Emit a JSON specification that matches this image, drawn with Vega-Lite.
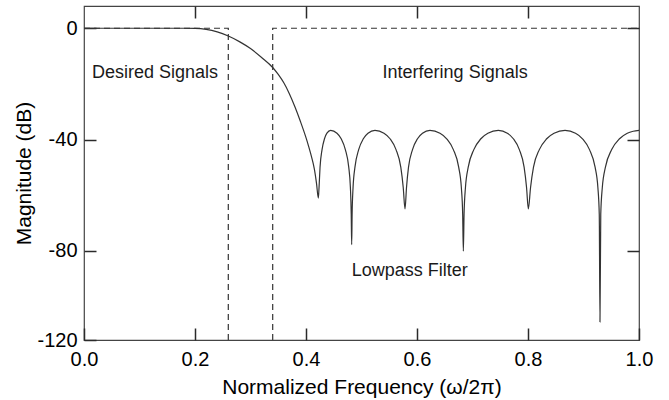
{
  "$schema": "https://vega.github.io/schema/vega-lite/v6.json",
  "width": 555,
  "height": 334,
  "autosize": "none",
  "padding": {"left": 84, "top": 6, "right": 30, "bottom": 60},
  "background": "white",
  "config": {
    "font": "Liberation Sans",
    "view": {"stroke": "#444444", "strokeWidth": 1.2},
    "axis": {"grid": false, "domain": false, "ticks": true, "zindex": 1, "labelFlush": false, "labelOverlap": false, "tickColor": "#2a2a2a", "tickWidth": 1.5, "tickSize": 12, "offset": -12, "labelFont": "Liberation Sans", "titleFont": "Liberation Sans", "labelColor": "#000000", "titleColor": "#000000", "titleFontWeight": "normal"}
  },
  "datasets": {
    "curve": [
      {"f": 0, "v": 0}, {"f": 0.05, "v": 0}, {"f": 0.1, "v": 0}, {"f": 0.15, "v": 0}, {"f": 0.18, "v": 0},
      {"f": 0.2, "v": -0.05}, {"f": 0.22, "v": -0.4}, {"f": 0.24, "v": -1.3}, {"f": 0.26, "v": -2.8},
      {"f": 0.28, "v": -4.8}, {"f": 0.3, "v": -7.3}, {"f": 0.32, "v": -10.5}, {"f": 0.34, "v": -14.1},
      {"f": 0.35, "v": -16.6}, {"f": 0.36, "v": -19.6}, {"f": 0.37, "v": -23.5}, {"f": 0.38, "v": -28.2},
      {"f": 0.39, "v": -33.5}, {"f": 0.4, "v": -39.3}, {"f": 0.405, "v": -42.6}, {"f": 0.41, "v": -46.2},
      {"f": 0.415, "v": -50.5}, {"f": 0.419, "v": -55.8}, {"f": 0.4222, "v": -61},
      {"f": 0.4235, "v": -57.2}, {"f": 0.4253, "v": -49.9}, {"f": 0.4289, "v": -43.6}, {"f": 0.4333, "v": -39.7},
      {"f": 0.4377, "v": -37.7}, {"f": 0.4444, "v": -36.7}, {"f": 0.4558, "v": -37.7}, {"f": 0.4634, "v": -39.7},
      {"f": 0.4709, "v": -43.6}, {"f": 0.477, "v": -49.9}, {"f": 0.48, "v": -57.2}, {"f": 0.4815, "v": -66.8},
      {"f": 0.4823, "v": -77.7},
      {"f": 0.4831, "v": -66.8}, {"f": 0.4848, "v": -57.2}, {"f": 0.4882, "v": -49.9}, {"f": 0.4949, "v": -43.6},
      {"f": 0.5033, "v": -39.7}, {"f": 0.5117, "v": -37.7}, {"f": 0.5243, "v": -36.7}, {"f": 0.5405, "v": -37.7},
      {"f": 0.5514, "v": -39.7}, {"f": 0.5622, "v": -43.6}, {"f": 0.5708, "v": -49.9}, {"f": 0.5752, "v": -57.2},
      {"f": 0.5784, "v": -64.9},
      {"f": 0.5811, "v": -57.2}, {"f": 0.5847, "v": -49.9}, {"f": 0.5919, "v": -43.6}, {"f": 0.6009, "v": -39.7},
      {"f": 0.6099, "v": -37.7}, {"f": 0.6234, "v": -36.7}, {"f": 0.6414, "v": -37.7}, {"f": 0.6535, "v": -39.7},
      {"f": 0.6655, "v": -43.6}, {"f": 0.6751, "v": -49.9}, {"f": 0.6799, "v": -57.2}, {"f": 0.6823, "v": -66.8},
      {"f": 0.6835, "v": -80.1},
      {"f": 0.6848, "v": -66.8}, {"f": 0.6873, "v": -57.2}, {"f": 0.6923, "v": -49.9}, {"f": 0.7024, "v": -43.6},
      {"f": 0.7151, "v": -39.7}, {"f": 0.7277, "v": -37.7}, {"f": 0.7466, "v": -36.7}, {"f": 0.7628, "v": -37.7},
      {"f": 0.7736, "v": -39.7}, {"f": 0.7844, "v": -43.6}, {"f": 0.793, "v": -49.9}, {"f": 0.7974, "v": -57.2},
      {"f": 0.8006, "v": -64.9},
      {"f": 0.8046, "v": -57.2}, {"f": 0.8099, "v": -49.9}, {"f": 0.8204, "v": -43.6}, {"f": 0.8337, "v": -39.7},
      {"f": 0.8469, "v": -37.7}, {"f": 0.8667, "v": -36.7}, {"f": 0.8856, "v": -37.7}, {"f": 0.8982, "v": -39.7},
      {"f": 0.9108, "v": -43.6}, {"f": 0.9209, "v": -49.9}, {"f": 0.9259, "v": -57.2}, {"f": 0.9284, "v": -66.8},
      {"f": 0.9297, "v": -105.5},
      {"f": 0.9311, "v": -66.8}, {"f": 0.9339, "v": -57.2}, {"f": 0.9395, "v": -49.9}, {"f": 0.9508, "v": -43.6},
      {"f": 0.9649, "v": -39.7}, {"f": 0.9789, "v": -37.7}, {"f": 0.9895, "v": -37.0}, {"f": 1.0, "v": -36.7}
    ],
    "ideal": [
      {"seg": "desired", "i": 0, "f": 0, "v": 0},
      {"seg": "desired", "i": 1, "f": 0.26, "v": 0},
      {"seg": "desired", "i": 2, "f": 0.26, "v": -112},
      {"seg": "interfering", "i": 0, "f": 0.34, "v": -112},
      {"seg": "interfering", "i": 1, "f": 0.34, "v": 0},
      {"seg": "interfering", "i": 2, "f": 1.0, "v": 0}
    ],
    "notes": [
      {"label": "Desired Signals", "f": 0.0145, "v": -17.8},
      {"label": "Interfering Signals", "f": 0.538, "v": -17.8},
      {"label": "Lowpass Filter", "f": 0.4823, "v": -88.9}
    ]
  },
  "layer": [
    {
      "data": {"name": "curve"},
      "mark": {"type": "line", "color": "#333333", "strokeWidth": 1.2, "interpolate": "monotone"},
      "encoding": {
        "x": {"field": "f", "type": "quantitative", "scale": {"domain": [0, 1], "nice": false, "zero": false},
              "axis": {"orient": "bottom", "values": [0, 0.2, 0.4, 0.6, 0.8, 1.0], "format": ".1f", "labelFontSize": 20, "labelPadding": 9, "title": "Normalized Frequency  (ω/2π)", "titleFontSize": 21, "titlePadding": 7}},
        "y": {"field": "v", "type": "quantitative", "scale": {"domain": [-112, 8], "nice": false, "zero": false},
              "axis": {"orient": "left", "values": [0, -40, -80, -112], "labelExpr": "datum.value == -112 ? '-120' : replace(datum.label, '−', '-')", "labelFontSize": 20, "labelPadding": 7, "title": "Magnitude (dB)", "titleFontSize": 21, "titlePadding": 2}}
      }
    },
    {
      "data": {"name": "ideal"},
      "mark": {"type": "line", "color": "#333333", "strokeWidth": 1.2, "strokeDash": [6, 4]},
      "encoding": {
        "x": {"field": "f", "type": "quantitative", "scale": {"domain": [0, 1], "nice": false, "zero": false},
              "axis": {"orient": "top", "values": [0.2, 0.4, 0.6, 0.8], "labels": false, "title": null}},
        "y": {"field": "v", "type": "quantitative", "scale": {"domain": [-112, 8], "nice": false, "zero": false},
              "axis": {"orient": "right", "values": [0, -40, -80], "labels": false, "title": null}},
        "detail": {"field": "seg", "type": "nominal"},
        "order": {"field": "i", "type": "quantitative"}
      }
    },
    {
      "data": {"name": "notes"},
      "mark": {"type": "text", "align": "left", "baseline": "alphabetic", "fontSize": 18, "font": "Liberation Sans", "color": "#1a1a1a"},
      "encoding": {
        "x": {"field": "f", "type": "quantitative", "scale": {"domain": [0, 1], "nice": false, "zero": false}, "axis": null},
        "y": {"field": "v", "type": "quantitative", "scale": {"domain": [-112, 8], "nice": false, "zero": false}, "axis": null},
        "text": {"field": "label", "type": "nominal"}
      }
    }
  ],
  "resolve": {"axis": {"x": "independent", "y": "independent"}}
}
